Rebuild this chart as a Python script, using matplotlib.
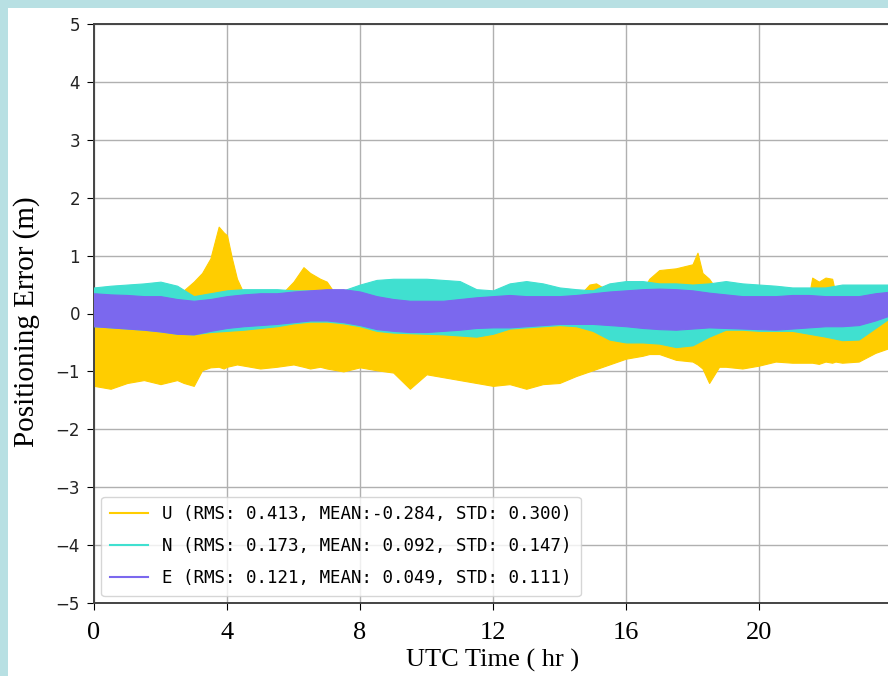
import numpy as np
import matplotlib
matplotlib.use("Agg")
import matplotlib.pyplot as plt
from matplotlib.patches import Rectangle
from matplotlib.lines import Line2D

# ---------------- data (envelopes) ----------------
t_half = [i * 0.5 for i in range(49)]  # hours 0..24 step 0.5

E_hi = [0.35, 0.33, 0.32, 0.30, 0.30, 0.25, 0.22, 0.25, 0.30, 0.33, 0.35, 0.35,
        0.38, 0.40, 0.42, 0.42, 0.38, 0.30, 0.25, 0.22, 0.22, 0.22, 0.25, 0.28,
        0.30, 0.32, 0.30, 0.30, 0.30, 0.32, 0.35, 0.38, 0.40, 0.42, 0.43, 0.42,
        0.40, 0.36, 0.33, 0.30, 0.30, 0.30, 0.32, 0.32, 0.30, 0.30, 0.30, 0.35, 0.38]
E_lo = [-0.22, -0.24, -0.26, -0.28, -0.31, -0.35, -0.36, -0.30, -0.25, -0.22, -0.20, -0.18,
        -0.15, -0.12, -0.12, -0.15, -0.20, -0.27, -0.30, -0.32, -0.32, -0.30, -0.28, -0.25,
        -0.24, -0.24, -0.22, -0.20, -0.18, -0.18, -0.18, -0.20, -0.22, -0.25, -0.27, -0.28,
        -0.26, -0.24, -0.25, -0.26, -0.27, -0.28, -0.26, -0.24, -0.22, -0.22, -0.20, -0.12, -0.02]

N_hi = [0.45, 0.48, 0.50, 0.52, 0.55, 0.48, 0.30, 0.35, 0.40, 0.42, 0.42, 0.42,
        0.40, 0.40, 0.38, 0.40, 0.50, 0.58, 0.60, 0.60, 0.60, 0.58, 0.56, 0.42,
        0.40, 0.52, 0.56, 0.52, 0.45, 0.42, 0.40, 0.52, 0.56, 0.56, 0.52, 0.52,
        0.50, 0.52, 0.56, 0.52, 0.50, 0.48, 0.45, 0.45, 0.45, 0.50, 0.50, 0.50, 0.50]
N_lo = [-0.22, -0.24, -0.26, -0.28, -0.31, -0.35, -0.36, -0.32, -0.30, -0.28, -0.25, -0.22,
        -0.17, -0.14, -0.14, -0.17, -0.22, -0.30, -0.33, -0.34, -0.35, -0.36, -0.38, -0.40,
        -0.35, -0.26, -0.24, -0.22, -0.20, -0.22, -0.30, -0.45, -0.50, -0.50, -0.52, -0.58,
        -0.55, -0.40, -0.28, -0.28, -0.30, -0.30, -0.30, -0.35, -0.40, -0.46, -0.45, -0.25, -0.05]

t_U = [0.0, 0.5, 1.0, 1.5, 2.0, 2.5, 2.7, 3.0, 3.25, 3.5, 3.75, 3.9, 4.0, 4.15, 4.3, 4.5,
       5.0, 5.5, 6.0, 6.3, 6.5, 6.8, 7.0, 7.3, 7.5, 8.0, 8.5, 9.0, 9.5, 10.0, 10.5, 11.0,
       11.5, 12.0, 12.5, 13.0, 13.5, 14.0, 14.5, 14.9, 15.1, 15.3, 15.5, 16.0, 16.5, 16.7,
       17.0, 17.5, 18.0, 18.15, 18.3, 18.5, 18.8, 19.0, 19.5, 20.0, 20.5, 21.0, 21.5, 21.6,
       21.8, 22.0, 22.2, 22.3, 22.5, 23.0, 23.5, 24.0]
U_hi = [0.25, 0.25, 0.25, 0.25, 0.25, 0.25, 0.40, 0.55, 0.70, 0.95, 1.50, 1.40, 1.35, 0.95, 0.60, 0.35,
        0.25, 0.25, 0.55, 0.80, 0.70, 0.60, 0.55, 0.30, 0.25, 0.25, 0.25, 0.25, 0.25, 0.25, 0.25, 0.25,
        0.25, 0.25, 0.25, 0.25, 0.25, 0.25, 0.25, 0.50, 0.52, 0.45, 0.25, 0.30, 0.40, 0.60,
        0.75, 0.78, 0.85, 1.05, 0.70, 0.60, 0.35, 0.25, 0.25, 0.25, 0.25, 0.25, 0.30, 0.62,
        0.55, 0.62, 0.60, 0.35, 0.25, 0.20, 0.10, 0.05]
U_lo = [-1.25, -1.30, -1.20, -1.15, -1.22, -1.15, -1.20, -1.25, -0.98, -0.93, -0.92, -0.95, -0.92, -0.90, -0.88, -0.90,
        -0.95, -0.92, -0.88, -0.92, -0.95, -0.92, -0.95, -0.98, -1.00, -0.93, -0.98, -1.02, -1.30, -1.05, -1.10, -1.15,
        -1.20, -1.25, -1.22, -1.30, -1.22, -1.20, -1.08, -1.00, -0.96, -0.92, -0.88, -0.78, -0.73, -0.70,
        -0.70, -0.80, -0.83, -0.88, -0.95, -1.20, -0.92, -0.92, -0.95, -0.90, -0.83, -0.85, -0.85, -0.85,
        -0.87, -0.83, -0.85, -0.83, -0.85, -0.83, -0.68, -0.58]

labels = ["U (RMS: 0.413, MEAN:-0.284, STD: 0.300)",
          "N (RMS: 0.173, MEAN: 0.092, STD: 0.147)",
          "E (RMS: 0.121, MEAN: 0.049, STD: 0.111)"]
colors = ["#ffcd00", "#40e0d0", "#7b68ee"]

x_ticks = [0, 4, 8, 12, 16, 20]
y_ticks = [-5, -4, -3, -2, -1, 0, 1, 2, 3, 4, 5]

# ---------------- figure ----------------
W, H = 888, 676
fig = plt.figure(figsize=(W / 100, H / 100), dpi=100, facecolor="#b8e0e3")
fig.patches.append(Rectangle((8 / W, 0), 1, (H - 8) / H, transform=fig.transFigure,
                             facecolor="white", edgecolor="none", zorder=-10))

ax = fig.add_axes([94 / W, (H - 603) / H, (892 - 94) / W, (603 - 24) / H])

# U first (bottom), then N, then E on top
ax.fill_between(t_U, U_lo, U_hi, color=colors[0], linewidth=0.8, edgecolor=colors[0], zorder=2)
ax.fill_between(t_half, N_lo, N_hi, color=colors[1], linewidth=0.8, edgecolor=colors[1], zorder=3)
ax.fill_between(t_half, E_lo, E_hi, color=colors[2], linewidth=0.8, edgecolor=colors[2], zorder=4)

handles = [Line2D([], [], color=c, lw=1.5) for c in colors]
leg = ax.legend(handles, labels, loc="lower left", prop={"family": "DejaVu Sans Mono", "size": 12.6},
                frameon=True, handlelength=2.2, borderaxespad=0.4, labelspacing=0.8,
                borderpad=0.5)
leg.get_frame().set_edgecolor("#cccccc")
leg.set_zorder(10)

ax.set_xlim(0, 24)
ax.set_ylim(-5, 5)
ax.set_xticks(x_ticks)
ax.set_yticks(y_ticks)
ax.grid(True, color="#b0b0b0", lw=1.0, zorder=0)
ax.set_axisbelow(True)

for lab in ax.get_xticklabels():
    lab.set_fontfamily("Liberation Serif")
    lab.set_fontsize(19)
for lab in ax.get_yticklabels():
    lab.set_fontfamily("DejaVu Sans")
    lab.set_fontsize(12)
    lab.set_color("#222222")
ax.tick_params(axis="x", length=5, pad=9)
ax.tick_params(axis="y", length=5, pad=5)

ax.set_xlabel("UTC Time ( hr )", family="Liberation Serif", fontsize=19, labelpad=3)
ax.set_ylabel("Positioning Error (m)", family="Liberation Serif", fontsize=21)
ax.yaxis.set_label_coords(-0.068, 0.485)

for s in ["left", "top", "bottom", "right"]:
    ax.spines[s].set_color("#444444")
    ax.spines[s].set_linewidth(1.4)

fig.savefig("out.png", dpi=100, facecolor=fig.get_facecolor())
